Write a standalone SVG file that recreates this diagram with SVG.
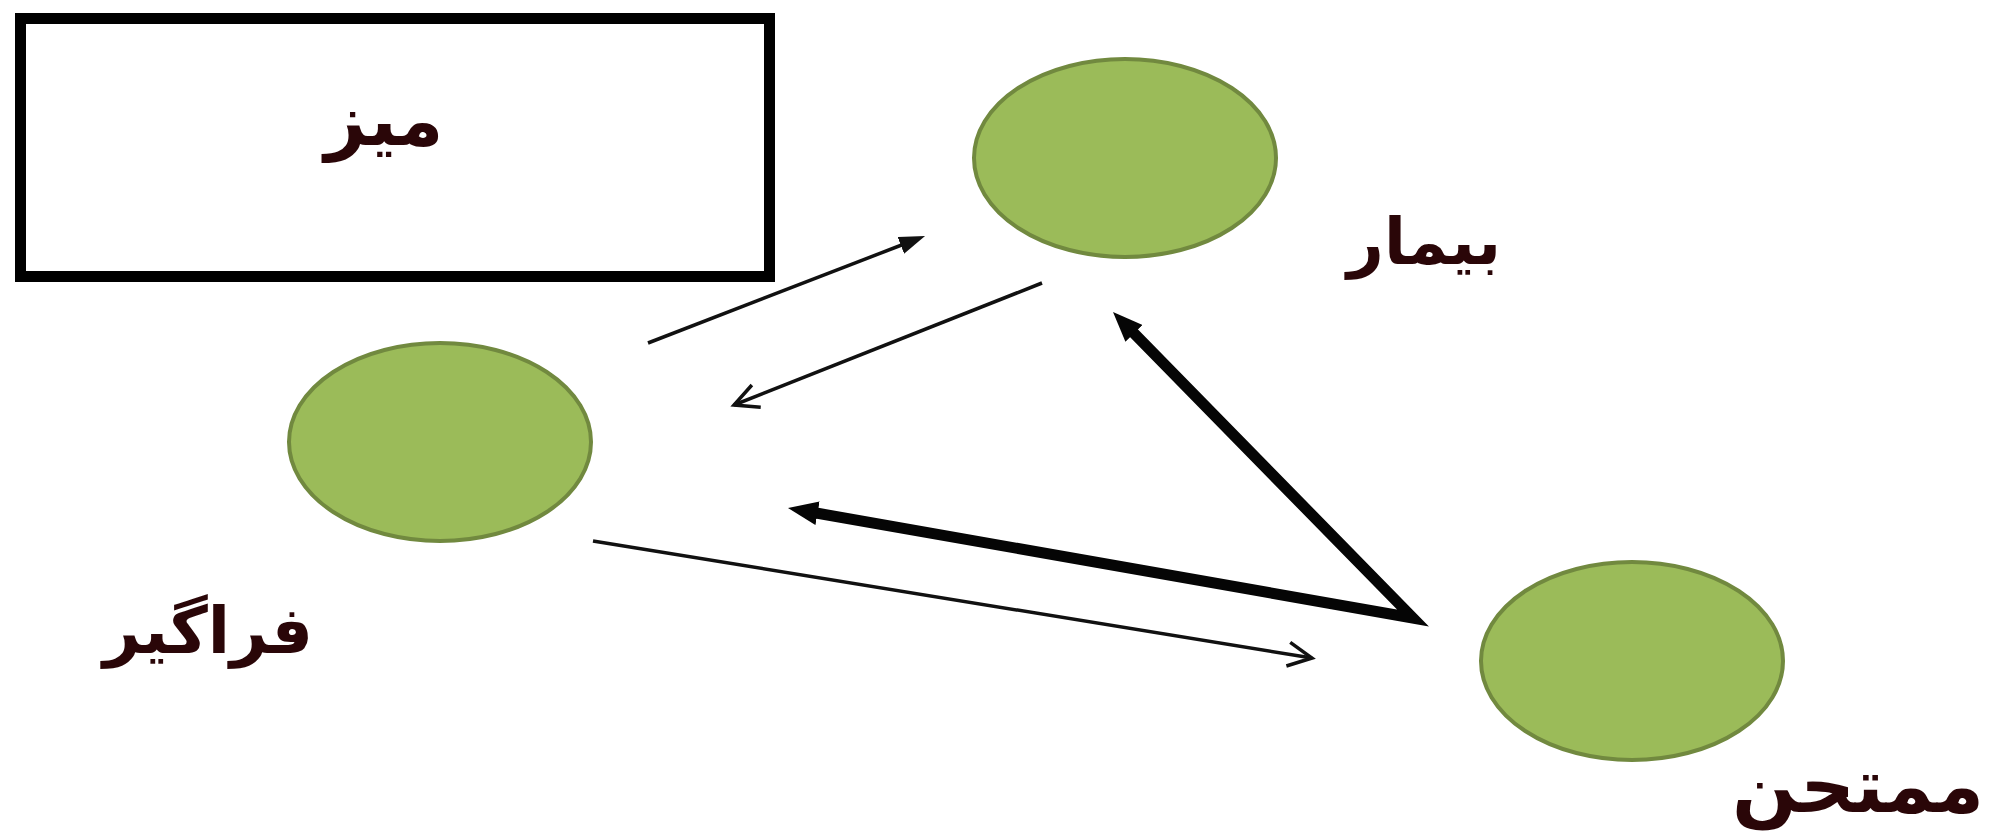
<svg xmlns="http://www.w3.org/2000/svg" width="1993" height="836" viewBox="0 0 1993 836">
  <style>
    .node-shape { fill: #9bbb59; stroke: #71893f; stroke-width: 4; }
    .label { font-family: "DejaVu Sans", "Noto Sans", sans-serif; font-weight: bold; fill: #2a0608; text-anchor: middle; direction: rtl; }
    .thin { fill: none; stroke: #111; stroke-width: 3.5; }
    .thick { fill: none; stroke: #050505; stroke-width: 11; stroke-linejoin: miter; stroke-miterlimit: 20; }
  </style>
  <defs>
    <marker id="head-solid-small" markerUnits="userSpaceOnUse" markerWidth="26" markerHeight="18" viewBox="0 0 26 18" refX="12" refY="9" orient="auto">
      <path d="M0,0 L26,9 L0,18 Z" fill="#111"/>
    </marker>
    <marker id="head-open" markerUnits="userSpaceOnUse" markerWidth="36" markerHeight="36" viewBox="-4 -4 36 36" refX="26" refY="14" orient="auto">
      <path d="M2,2 L26,14 L2,26" fill="none" stroke="#111" stroke-width="3.5" stroke-linejoin="miter"/>
    </marker>
    <marker id="head-solid-large" markerUnits="userSpaceOnUse" markerWidth="30" markerHeight="24" viewBox="0 0 30 24" refX="10" refY="12" orient="auto-start-reverse">
      <path d="M0,0 L30,12 L0,24 Z" fill="#050505"/>
    </marker>
  </defs>

  <rect width="1993" height="836" fill="#ffffff"/>

  <!-- table -->
  <g id="node-table">
    <rect x="20.5" y="18.5" width="749" height="258" fill="#ffffff" stroke="#000" stroke-width="11"/>
    <text class="label" x="384" y="145" font-size="72">میز</text>
  </g>

  <!-- patient -->
  <g id="node-patient">
    <ellipse class="node-shape" cx="1125" cy="158" rx="151" ry="99"/>
    <text class="label" x="1424" y="264" font-size="64">بیمار</text>
  </g>

  <!-- learner -->
  <g id="node-learner">
    <ellipse class="node-shape" cx="440" cy="442" rx="151" ry="99"/>
    <text class="label" x="208" y="653" font-size="65">فراگیر</text>
  </g>

  <!-- examiner -->
  <g id="node-examiner">
    <ellipse class="node-shape" cx="1632" cy="661" rx="151" ry="99"/>
    <text class="label" x="1858" y="812" font-size="76">ممتحن</text>
  </g>

  <!-- connectors -->
  <g id="connectors">
    <line class="thin" x1="648" y1="343" x2="912" y2="241" marker-end="url(#head-solid-small)"/>
    <line class="thin" x1="1042" y1="283" x2="734" y2="405" marker-end="url(#head-open)"/>
    <line class="thin" x1="593" y1="541" x2="1312" y2="658" marker-end="url(#head-open)"/>
    <path class="thick" d="M807.7,511.5 L1413,618 L1127,326.2" marker-start="url(#head-solid-large)" marker-end="url(#head-solid-large)"/>
  </g>
</svg>
